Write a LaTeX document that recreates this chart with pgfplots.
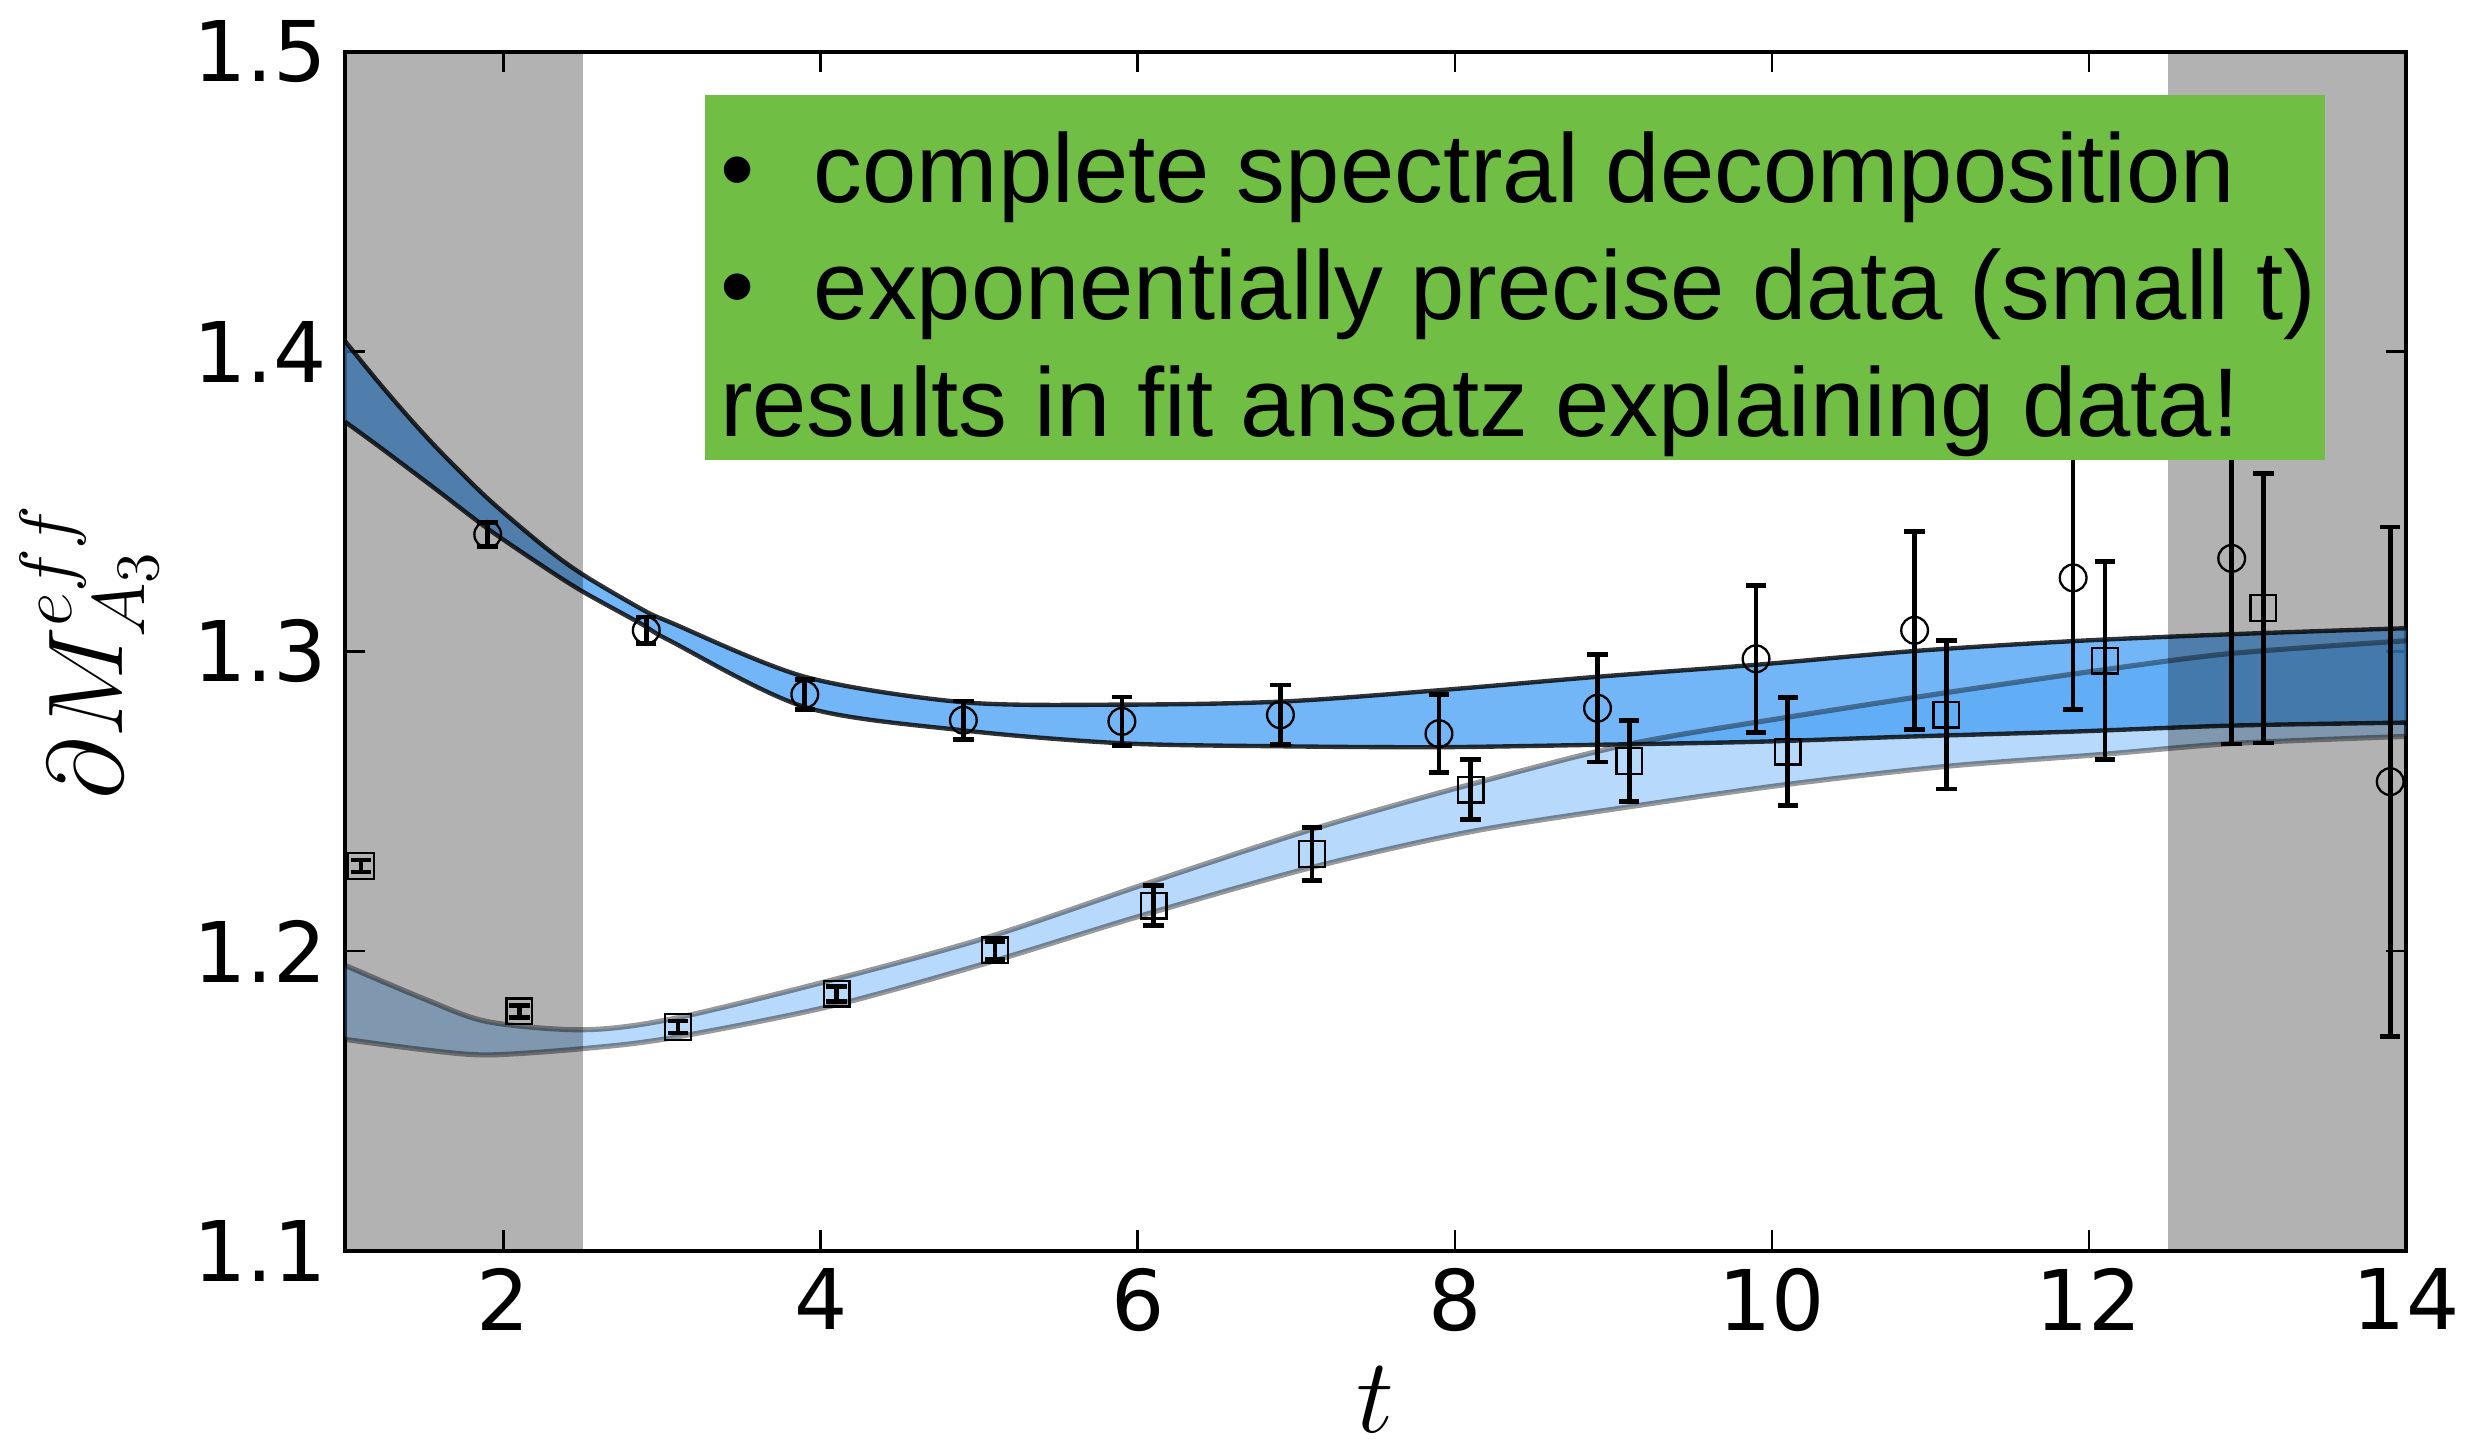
\documentclass[border=0pt]{standalone}
\usepackage{fontspec}
\setmainfont{DejaVu Sans}
\newfontfamily\boxfont{Liberation Sans}
\usepackage{pgfplots}
\usepackage{pgfplotstable}
\pgfplotsset{compat=1.18}
\usepgfplotslibrary{fillbetween}

\definecolor{bandblue}{RGB}{74,161,245}
\definecolor{boxgreen}{RGB}{112,190,68}

% fit band, upper curve (circles)
\pgfplotstableread{
t hi lo
1.0 1.4035 1.3766
1.2 1.3905 1.3689
1.4 1.3782 1.361
1.6 1.3667 1.353
1.9 1.3510 1.3409
2.25 1.3352 1.3283
2.5 1.3256 1.3199
2.87 1.3141 1.3091
3.05 1.3097 1.3035
3.9 1.2915 1.2814
4.9 1.283 1.2736
5.9 1.2822 1.2693
6.9 1.2832 1.2683
7.9 1.287 1.268
8.9 1.2915 1.2688
9.9 1.2955 1.2698
10.9 1.3001 1.2716
11.9 1.3034 1.2732
12.9 1.3057 1.2752
14.0 1.3077 1.2762
}\bandA

% fit band, lower curve (squares)
\pgfplotstableread{
t hi lo
1.0 1.1952 1.1705
1.5 1.184 1.167
1.9 1.1764 1.1653
2.5 1.1737 1.1674
3.05 1.1772 1.1709
4.05 1.19 1.1814
5.05 1.2045 1.196
6.05 1.2224 1.2122
7.1 1.2406 1.2279
8.1 1.2556 1.2398
9.1 1.269 1.2481
10.1 1.278 1.2556
11.1 1.2862 1.2616
12.06 1.2936 1.2655
12.9 1.2993 1.2692
14.0 1.3035 1.2716
}\bandB

\pgfplotstableread{
t m e
1.9 1.3390 0.004
2.9 1.3070 0.0044
3.9 1.2856 0.005
4.9 1.277 0.0064
5.9 1.2766 0.0081
6.9 1.2788 0.010
7.9 1.2725 0.013
8.9 1.281 0.018
9.9 1.2975 0.0245
10.9 1.307 0.033
11.9 1.3245 0.044
12.9 1.331 0.062
13.9 1.2565 0.085
}\circs

\pgfplotstableread{
t m e
1.1 1.2284 0.002
2.1 1.1798 0.002
3.1 1.1746 0.002
4.1 1.1857 0.0025
5.1 1.2002 0.003
6.1 1.2151 0.0067
7.1 1.2324 0.0088
8.1 1.2538 0.010
9.1 1.2634 0.0135
10.1 1.2665 0.018
11.1 1.2789 0.0248
12.1 1.2969 0.033
13.1 1.3144 0.045
}\squares

\begin{document}
\begin{tikzpicture}
\begin{axis}[
  scale only axis,
  width=14.10cm, height=8.20cm,
  xmin=1, xmax=14, ymin=1.1, ymax=1.5,
  xtick={2,4,...,14},
  ytick={1.1,1.2,1.3,1.4,1.5},
  tick align=inside, tick pos=both,
  major tick length=0.14cm,
  tick style={line width=0.5pt, black},
  axis line style={line width=0.8pt},
  /pgf/number format/assume math mode=true,
  ticklabel style={font=\fontsize{16.3}{19.5}\selectfont},
  yticklabel style={/pgf/number format/.cd, fixed, fixed zerofill, precision=1},
  xlabel={$t$},
  ylabel={$\partial M^{eff}_{A_3}$},
  label style={font=\fontsize{20.74}{24}\selectfont},
]

% bands
\addplot[name path=A1, draw=none, smooth] table[x=t, y=hi]{\bandA};
\addplot[name path=A2, draw=none, smooth] table[x=t, y=lo]{\bandA};
\addplot[fill=bandblue, fill opacity=0.78, draw=none] fill between[of=A1 and A2];

\addplot[name path=B1, draw=none, smooth] table[x=t, y=hi]{\bandB};
\addplot[name path=B2, draw=none, smooth] table[x=t, y=lo]{\bandB};
\addplot[fill=bandblue, fill opacity=0.4, draw=none] fill between[of=B1 and B2];

% band edges
\addplot[black, draw opacity=0.8, line width=0.85pt, smooth] table[x=t, y=hi]{\bandA};
\addplot[black, draw opacity=0.8, line width=0.85pt, smooth] table[x=t, y=lo]{\bandA};
\addplot[black, draw opacity=0.4, line width=1pt, smooth] table[x=t, y=hi]{\bandB};
\addplot[black, draw opacity=0.4, line width=1pt, smooth] table[x=t, y=lo]{\bandB};

% excluded regions
\fill[black, fill opacity=0.3] (axis cs:1,1.1) rectangle (axis cs:2.5,1.5);
\fill[black, fill opacity=0.3] (axis cs:12.5,1.1) rectangle (axis cs:14,1.5);

% data
\addplot[only marks, mark=o, mark size=2.6pt, mark options={black, line width=0.45pt},
  error bars/.cd, y dir=both, y explicit,
  error bar style={black, line width=0.9pt},
  error mark options={rotate=90, mark size=0.07cm, line width=0.9pt, black}]
  table[x=t, y=m, y error=e]{\circs};
\addplot[only marks, mark=square, mark size=2.5pt, mark options={black, line width=0.45pt},
  error bars/.cd, y dir=both, y explicit,
  error bar style={black, line width=0.9pt},
  error mark options={rotate=90, mark size=0.07cm, line width=0.9pt, black}]
  table[x=t, y=m, y error=e]{\squares};

% annotation box
\fill[boxgreen] (axis cs:3.273,1.3637) rectangle (axis cs:13.489,1.4856);
\begin{scope}[every node/.style={anchor=base west, inner sep=0pt,
    font=\boxfont\fontsize{19}{22}\selectfont}]
\node at (axis cs:3.36,1.4498) {\makebox[0.96em][l]{\textbullet}complete spectral decomposition};
\node at (axis cs:3.36,1.4107) {\makebox[0.96em][l]{\textbullet}exponentially precise data (small t)};
\node at (axis cs:3.36,1.3716) {results in fit ansatz explaining data!};
\end{scope}

\coordinate (bbsw) at (rel axis cs:-0.1674,-0.1693);
\coordinate (bbne) at (rel axis cs:1.0383,1.0434);
\end{axis}
\pgfresetboundingbox
\useasboundingbox (bbsw) rectangle (bbne);
\end{tikzpicture}
\end{document}
